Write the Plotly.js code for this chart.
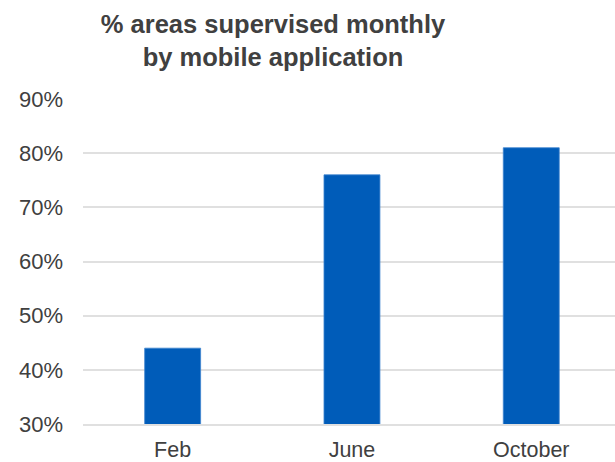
<!DOCTYPE html>
<html>
<head>
<meta charset="utf-8">
<script src="https://cdn.plot.ly/plotly-3.0.1.min.js"></script>
<style>html,body{margin:0;padding:0;background:#fff;}#chart{width:615px;height:462px;}</style>
</head>
<body>
<div id="chart"></div>
<script>
const categories = ['Feb', 'June', 'October'];
const values = [0.44, 0.76, 0.81];
const yTicks = [0.3, 0.4, 0.5, 0.6, 0.7, 0.8, 0.9];
const titleText = '% areas supervised monthly<br>by mobile application';

const trace = {
  type: 'bar',
  x: categories,
  y: values,
  width: 0.312,
  marker: {color: '#005cb9', line: {color: '#3d84cf', width: 0.8}},
  hoverinfo: 'skip'
};

const layout = {
  width: 615, height: 462,
  margin: {l: 82.5, r: 0, t: 99, b: 38},
  paper_bgcolor: '#ffffff', plot_bgcolor: '#ffffff',
  font: {family: 'Liberation Sans, Arial, sans-serif', color: '#404040', size: 22},
  title: {
    text: titleText,
    font: {family: 'Liberation Sans, Arial, sans-serif', size: 25.5, color: '#404040', weight: 'bold'},
    xref: 'container', x: 273 / 615, xanchor: 'center',
    yref: 'container', y: 0.929, yanchor: 'top'
  },
  xaxis: {
    type: 'category',
    range: [-0.5, 2.467],
    showgrid: false,
    showline: true, linecolor: '#e0e0e0', linewidth: 2,
    ticks: '', ticklabelstandoff: 5,
    tickfont: {size: 21.5, color: '#404040'},
    fixedrange: true
  },
  yaxis: {
    range: [0.3, 0.9],
    tickvals: yTicks,
    tickformat: '.0%',
    showgrid: true, gridcolor: '#e0e0e0', gridwidth: 2,
    zeroline: false, showline: false,
    ticks: '', ticklabelstandoff: 19,
    tickfont: {size: 22, color: '#404040'},
    fixedrange: true
  },
  showlegend: false,
  bargap: 0
};

Plotly.newPlot('chart', [trace], layout, {displayModeBar: false, staticPlot: true});
</script>
</body>
</html>
